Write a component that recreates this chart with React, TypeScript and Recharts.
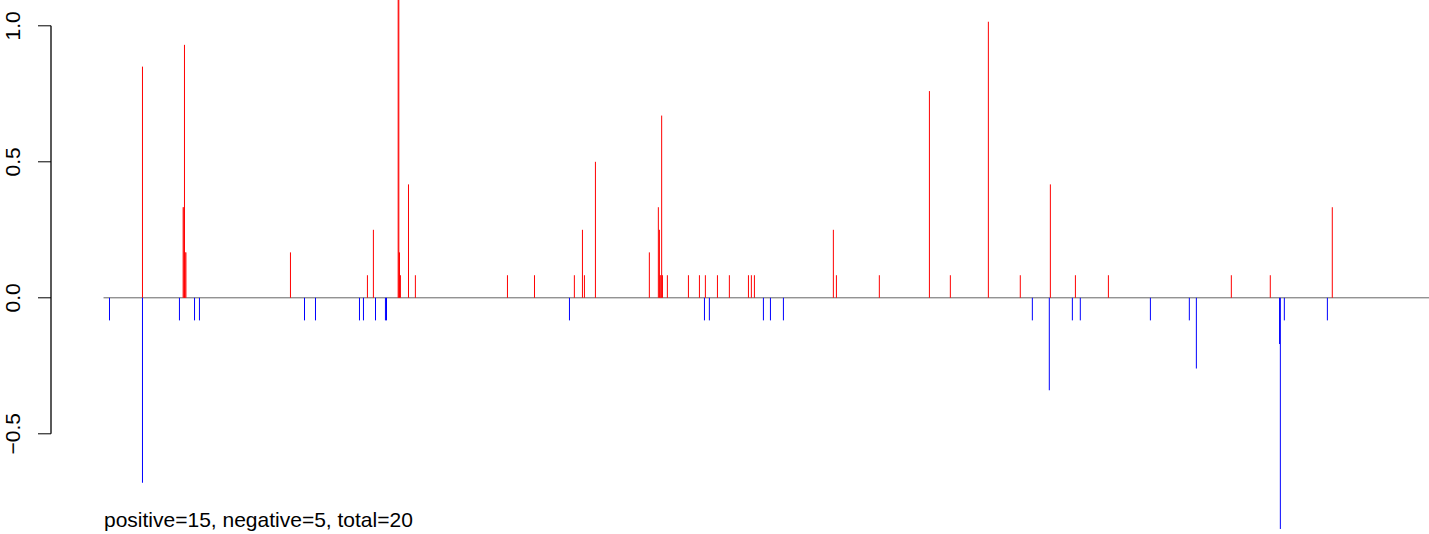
import { ComposedChart, ReferenceLine, Scatter, XAxis, YAxis } from "recharts";

// positions along the sequence (0..1000) and heights of the spikes
const positivePos = [
  28.9, 59.6, 60.2, 60.6, 61.1, 61.7, 140.6, 198.7, 203.2, 221.9, 222.4, 222.9, 223.6, 229.7, 234.9,
  304.4, 324.8, 354.9, 361.0, 362.5, 370.8, 411.5, 418.3, 419.1, 419.6, 420.2, 420.8, 421.4, 425.1,
  441.0, 449.3, 453.8, 462.9, 471.9, 486.3, 488.5, 490.8, 550.4, 552.7, 585.1, 622.9, 638.7, 667.4,
  691.5, 714.2, 733.1, 758.0, 850.8, 880.2, 927.0,
];
const positiveVal = [
  0.85, 0.333, 0.333, 0.93, 0.167, 0.167, 0.167, 0.083, 0.25, 1.2, 1.2, 0.167, 0.083, 0.417, 0.083,
  0.083, 0.083, 0.083, 0.25, 0.083, 0.5, 0.167, 0.333, 0.25, 0.083, 0.083, 0.67, 0.083, 0.083,
  0.083, 0.083, 0.083, 0.083, 0.083, 0.083, 0.083, 0.083, 0.25, 0.083, 0.083, 0.76, 0.083, 1.015,
  0.083, 0.417, 0.083, 0.083, 0.083, 0.083, 0.333,
];
const negativePos = [
  4.0, 28.9, 56.8, 68.2, 71.9, 151.2, 159.5, 192.7, 195.7, 204.8, 212.3, 213.1, 351.2, 453.1, 456.8,
  497.6, 502.9, 512.7, 700.6, 713.4, 730.8, 736.8, 789.7, 819.1, 824.4, 887.2, 887.8, 890.8, 923.3,
];
const negativeVal = [
  -0.083, -0.68, -0.083, -0.083, -0.083, -0.083, -0.083, -0.083, -0.083, -0.083, -0.083, -0.083,
  -0.083, -0.083, -0.083, -0.083, -0.083, -0.083, -0.083, -0.34, -0.083, -0.083, -0.083, -0.083,
  -0.26, -0.17, -0.85, -0.083, -0.083,
];
const yTicks = [-0.5, 0, 0.5, 1];
const summary = "positive=15, negative=5, total=20";

const X_MIN = -40.15;
const X_MAX = 1000;

const points = [
  ...positivePos.map((pos, i) => ({ pos, val: positiveVal[i] })),
  ...negativePos.map((pos, i) => ({ pos, val: negativeVal[i] })),
];

const fmt = (v: number) => (v < 0 ? "\u2212" + Math.abs(v).toFixed(1) : v.toFixed(1));

function RotatedTick(props: any) {
  const { x, y, payload } = props;
  return (
    <text
      transform={`translate(${x},${y}) rotate(-90)`}
      textAnchor="middle"
      fontSize={21}
      fontFamily="'Liberation Sans', Arial, sans-serif"
      fill="#000"
    >
      {fmt(payload.value)}
    </text>
  );
}

export default function App() {
  return (
    <div style={{ position: "absolute", left: 0, top: 0, width: 1429, height: 534, background: "#fff" }}>
      <ComposedChart width={1429} height={534} data={points} margin={{ top: 0, right: 0, bottom: 0, left: 0 }}>
        <XAxis type="number" dataKey="pos" domain={[X_MIN, X_MAX]} allowDataOverflow hide />
        <YAxis
          type="number"
          dataKey="val"
          domain={[-0.8684, 1.0949]}
          allowDataOverflow
          ticks={yTicks}
          interval={0}
          width={51}
          axisLine={false}
          tickLine={{ stroke: "#000", strokeWidth: 1 }}
          tickSize={13}
          tickMargin={18}
          tick={<RotatedTick />}
        />
        <ReferenceLine
          segment={[{ x: X_MIN, y: -0.5 }, { x: X_MIN, y: 1 }]}
          stroke="#000"
          strokeWidth={1.3}
          ifOverflow="visible"
        />
        <ReferenceLine
          segment={[{ x: -0.5, y: 0 }, { x: X_MAX, y: 0 }]}
          stroke="#666666"
          strokeWidth={1}
          ifOverflow="visible"
        />
        {positivePos.map((p, i) => (
          <ReferenceLine
            key={"p" + i}
            segment={[{ x: p, y: 0 }, { x: p, y: positiveVal[i] }]}
            stroke="#ff0000"
            strokeWidth={1}
            ifOverflow="visible"
          />
        ))}
        {negativePos.map((p, i) => (
          <ReferenceLine
            key={"n" + i}
            segment={[{ x: p, y: 0 }, { x: p, y: negativeVal[i] }]}
            stroke="#0000ff"
            strokeWidth={1}
            ifOverflow="visible"
          />
        ))}
        <Scatter dataKey="val" isAnimationActive={false} shape={() => <g />} />
      </ComposedChart>
      <div
        style={{
          position: "absolute",
          left: 104,
          top: 509,
          fontSize: 21,
          lineHeight: "21px",
          fontFamily: "'Liberation Sans', Arial, sans-serif",
          color: "#000",
          whiteSpace: "nowrap",
        }}
      >
        {summary}
      </div>
    </div>
  );
}
